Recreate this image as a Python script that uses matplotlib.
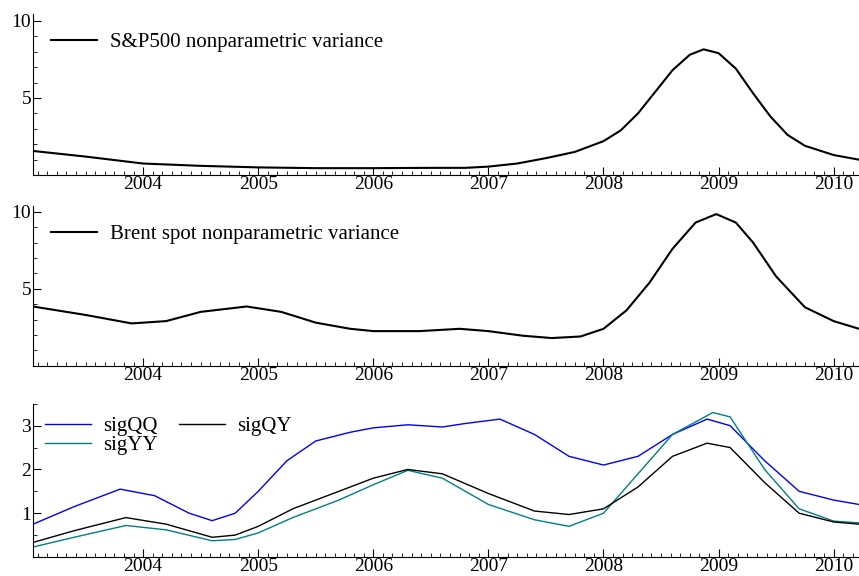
import numpy as np
from matplotlib import pyplot as plt
from matplotlib.ticker import MultipleLocator

plt.rcParams['font.family'] = ['Liberation Serif', 'DejaVu Serif']

# top panel
sp_t = [2003.0, 2003.5, 2004.0, 2004.5, 2005.0, 2005.5, 2006.0, 2006.5, 2006.8, 2007.0, 2007.25, 2007.5,
        2007.75, 2008.0, 2008.15, 2008.3, 2008.45, 2008.6, 2008.75, 2008.87, 2009.0, 2009.15, 2009.3,
        2009.45, 2009.6, 2009.75, 2010.0, 2010.22]
sp_v = [1.6, 1.2, 0.75, 0.6, 0.5, 0.45, 0.45, 0.47, 0.47, 0.55, 0.75, 1.1,
        1.5, 2.2, 2.9, 4.0, 5.4, 6.8, 7.8, 8.15, 7.9, 6.9, 5.3,
        3.8, 2.6, 1.9, 1.3, 1.0]

# middle panel
br_t = [2003.0, 2003.5, 2003.9, 2004.2, 2004.5, 2004.9, 2005.2, 2005.5, 2005.8, 2006.0, 2006.4, 2006.75, 2007.0,
        2007.3, 2007.55, 2007.8, 2008.0, 2008.2, 2008.4, 2008.6, 2008.8, 2008.98, 2009.15, 2009.3,
        2009.5, 2009.75, 2010.0, 2010.22]
br_v = [3.9, 3.3, 2.75, 2.9, 3.5, 3.85, 3.5, 2.8, 2.4, 2.25, 2.25, 2.4, 2.25,
        1.95, 1.8, 1.9, 2.4, 3.6, 5.4, 7.6, 9.3, 9.85, 9.3, 8.0,
        5.8, 3.8, 2.9, 2.4]

# bottom panel
qq_t = [2003.0, 2003.4, 2003.8, 2004.1, 2004.4, 2004.6, 2004.8, 2005.0, 2005.25, 2005.5, 2005.8, 2006.0, 2006.3,
        2006.6, 2006.8, 2007.1, 2007.4, 2007.7, 2008.0, 2008.3, 2008.6, 2008.9, 2009.1, 2009.4, 2009.7, 2010.0, 2010.22]
qq_v = [0.7, 1.15, 1.55, 1.4, 1.0, 0.83, 1.0, 1.5, 2.2, 2.65, 2.85, 2.95, 3.02,
        2.97, 3.05, 3.15, 2.8, 2.3, 2.1, 2.3, 2.8, 3.15, 3.0, 2.2, 1.5, 1.3, 1.2]
qy_t = [2003.0, 2003.4, 2003.85, 2004.2, 2004.6, 2004.8, 2005.0, 2005.3, 2005.7, 2006.0, 2006.3, 2006.6,
        2007.0, 2007.4, 2007.7, 2008.0, 2008.3, 2008.6, 2008.9, 2009.1, 2009.4, 2009.7, 2010.0, 2010.22]
qy_v = [0.3, 0.6, 0.9, 0.75, 0.45, 0.5, 0.7, 1.1, 1.5, 1.8, 2.0, 1.9,
        1.45, 1.05, 0.97, 1.1, 1.6, 2.3, 2.6, 2.5, 1.7, 1.0, 0.8, 0.75]
yy_t = [2003.0, 2003.4, 2003.85, 2004.2, 2004.6, 2004.8, 2005.0, 2005.3, 2005.7, 2006.0, 2006.3, 2006.6,
        2007.0, 2007.4, 2007.7, 2008.0, 2008.3, 2008.6, 2008.95, 2009.1, 2009.4, 2009.7, 2010.0, 2010.22]
yy_v = [0.2, 0.45, 0.72, 0.62, 0.37, 0.4, 0.55, 0.9, 1.3, 1.65, 1.98, 1.8,
        1.2, 0.85, 0.7, 1.0, 1.9, 2.8, 3.3, 3.2, 2.0, 1.1, 0.82, 0.78]

years = [2004, 2005, 2006, 2007, 2008, 2009, 2010]

fig = plt.figure(figsize=(8.59, 5.76), dpi=100)
ax1 = fig.add_axes([0.038, 0.696, 0.962, 0.28])
ax2 = fig.add_axes([0.038, 0.365, 0.962, 0.278])
ax3 = fig.add_axes([0.038, 0.033, 0.962, 0.266])


def style(ax, ylim, ymaj, ymin):
    ax.set_xlim(2003.04, 2010.22)
    ax.set_ylim(*ylim)
    for s in ['top', 'right']:
        ax.spines[s].set_visible(False)
    ax.set_xticks(years)
    ax.xaxis.set_minor_locator(MultipleLocator(1 / 12))
    ax.yaxis.set_major_locator(MultipleLocator(ymaj))
    ax.yaxis.set_minor_locator(MultipleLocator(ymin))
    ax.tick_params(which='both', direction='in', labelsize=14, pad=1)
    ax.tick_params(which='major', length=6)
    ax.tick_params(which='minor', length=3)


ax1.plot(sp_t, sp_v, 'k', lw=1.5, label='S&P500 nonparametric variance')
style(ax1, (0, 10.45), 5, 1)
ax1.set_yticks([5, 10])
ax1.legend(loc='upper left', frameon=False, fontsize=15, handlelength=2.2, handletextpad=0.6, borderaxespad=0.5)

ax2.plot(br_t, br_v, 'k', lw=1.5, label='Brent spot nonparametric variance')
style(ax2, (0, 10.4), 5, 1)
ax2.set_yticks([5, 10])
ax2.legend(loc='upper left', frameon=False, fontsize=15, handlelength=2.2, handletextpad=0.6, borderaxespad=0.5)

ax3.plot(qq_t, qq_v, color='#0000ff', lw=1, label='sigQQ')
ax3.plot(yy_t, yy_v, color='#008080', lw=1, label='sigYY')
ax3.plot(qy_t, qy_v, 'k', lw=1, label='sigQY')
style(ax3, (0, 3.5), 1, 0.5)
ax3.set_yticks([1, 2, 3])
ax3.legend(loc='upper left', ncol=2, frameon=False, fontsize=15,
           handlelength=2.2, handletextpad=0.6, labelspacing=0.0, columnspacing=1.0, borderaxespad=0.2)

plt.savefig('out.png', dpi=100)
